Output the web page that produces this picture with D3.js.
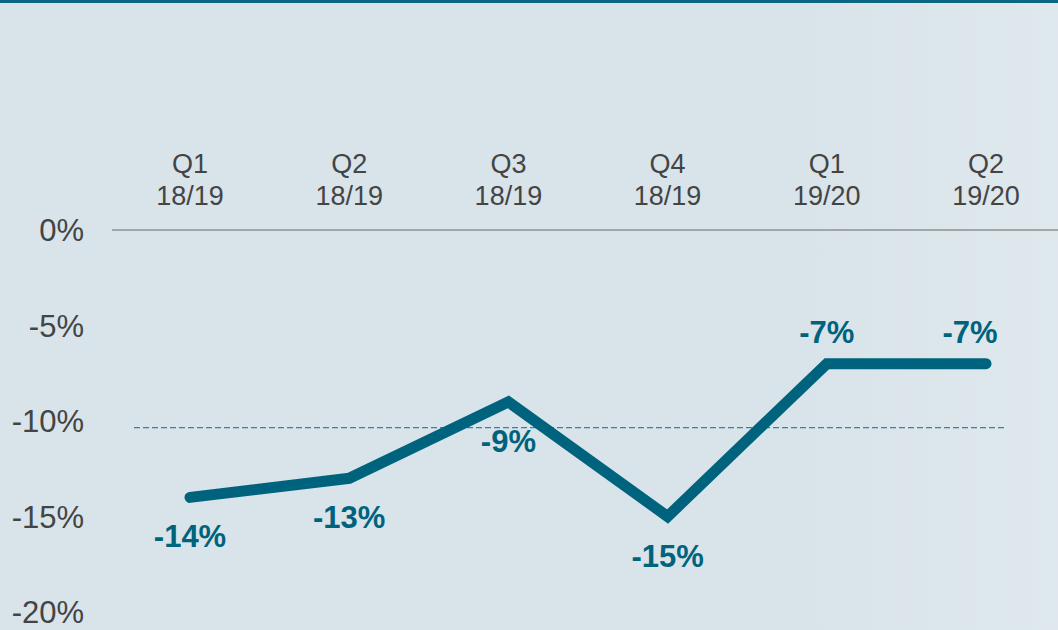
<!DOCTYPE html>
<html lang="en">
<head>
    <meta charset="UTF-8">
    <title>Quarterly change</title>
    <script src="https://d3js.org/d3.v7.min.js"></script>
    <style>
        body {
            margin: 0;
            overflow: hidden;
        }
        svg {
            display: block;
            font-family: "Liberation Sans", Arial, sans-serif;
        }
        .cat text {
            fill: #444;
            font-size: 27px;
        }
        .ytick text {
            fill: #444;
            font-size: 31px;
        }
        .value {
            fill: #00637d;
            font-size: 31px;
            font-weight: bold;
        }
    </style>
</head>
<body>
    <svg></svg>
    <script>
        const quarters = ['Q1', 'Q2', 'Q3', 'Q4', 'Q1', 'Q2'];
        const years = ['18/19', '18/19', '18/19', '18/19', '19/20', '19/20'];
        const values = [-14, -13, -9, -15, -7, -7];
        const yTicks = [0, -5, -10, -15, -20];
        const average = -10.35;

        const width = 1058;
        const height = 630;

        const svg = d3.select('svg')
            .attr('width', width)
            .attr('height', height);

        const grad = svg.append('defs').append('linearGradient')
            .attr('id', 'bg')
            .attr('x1', 0).attr('x2', 1).attr('y1', 0).attr('y2', 0);
        grad.append('stop').attr('offset', '0%').attr('stop-color', '#d8e3ea');
        grad.append('stop').attr('offset', '75%').attr('stop-color', '#d9e4ea');
        grad.append('stop').attr('offset', '100%').attr('stop-color', '#dee8ed');

        svg.append('rect')
            .attr('width', width)
            .attr('height', height)
            .attr('fill', 'url(#bg)');

        svg.append('rect')
            .attr('width', width)
            .attr('height', 3)
            .attr('fill', '#0b667f');

        const idx = values.map((d, i) => i);

        const x = d3.scalePoint()
            .domain(idx)
            .range([190, 986]);

        const y = d3.scaleLinear()
            .domain([-20, 0])
            .range([612, 230]);

        // zero line
        svg.append('line')
            .attr('x1', 112).attr('x2', width)
            .attr('y1', y(0)).attr('y2', y(0))
            .attr('stroke', '#a3a6a8')
            .attr('stroke-width', 2);

        // average line
        svg.append('line')
            .attr('x1', 134).attr('x2', 1006)
            .attr('y1', y(average)).attr('y2', y(average))
            .attr('stroke', '#2f86a0')
            .attr('stroke-width', 1.3)
            .attr('stroke-dasharray', '6 3');

        // y tick labels
        svg.append('g')
            .attr('class', 'ytick')
            .selectAll('text')
            .data(yTicks)
            .enter().append('text')
            .attr('x', 84)
            .attr('y', d => y(d))
            .attr('dy', '0.36em')
            .attr('text-anchor', 'end')
            .text(d => `${d}%`);

        // category labels
        const cat = svg.append('g')
            .attr('class', 'cat')
            .selectAll('text')
            .data(idx)
            .enter().append('text')
            .attr('x', d => x(d))
            .attr('text-anchor', 'middle');
        cat.append('tspan')
            .attr('x', d => x(d))
            .attr('y', 173)
            .text(d => quarters[d]);
        cat.append('tspan')
            .attr('x', d => x(d))
            .attr('y', 205)
            .text(d => years[d]);

        const line = d3.line()
            .x(d => x(d))
            .y(d => y(values[d]));

        svg.append('path')
            .datum(idx)
            .attr('d', line)
            .attr('fill', 'none')
            .attr('stroke', '#00637d')
            .attr('stroke-width', 11)
            .attr('stroke-linecap', 'round')
            .attr('stroke-linejoin', 'miter');

        // value labels: above for the last two, below otherwise
        const above = [false, false, false, false, true, true];
        svg.append('g')
            .selectAll('text')
            .data(idx)
            .enter().append('text')
            .attr('class', 'value')
            .attr('x', d => x(d) - (d === idx.length - 1 ? 16 : 0))
            .attr('y', d => y(values[d]) + (above[d] ? -21 : 50))
            .attr('text-anchor', 'middle')
            .text(d => `${values[d]}%`);
    </script>
</body>
</html>
